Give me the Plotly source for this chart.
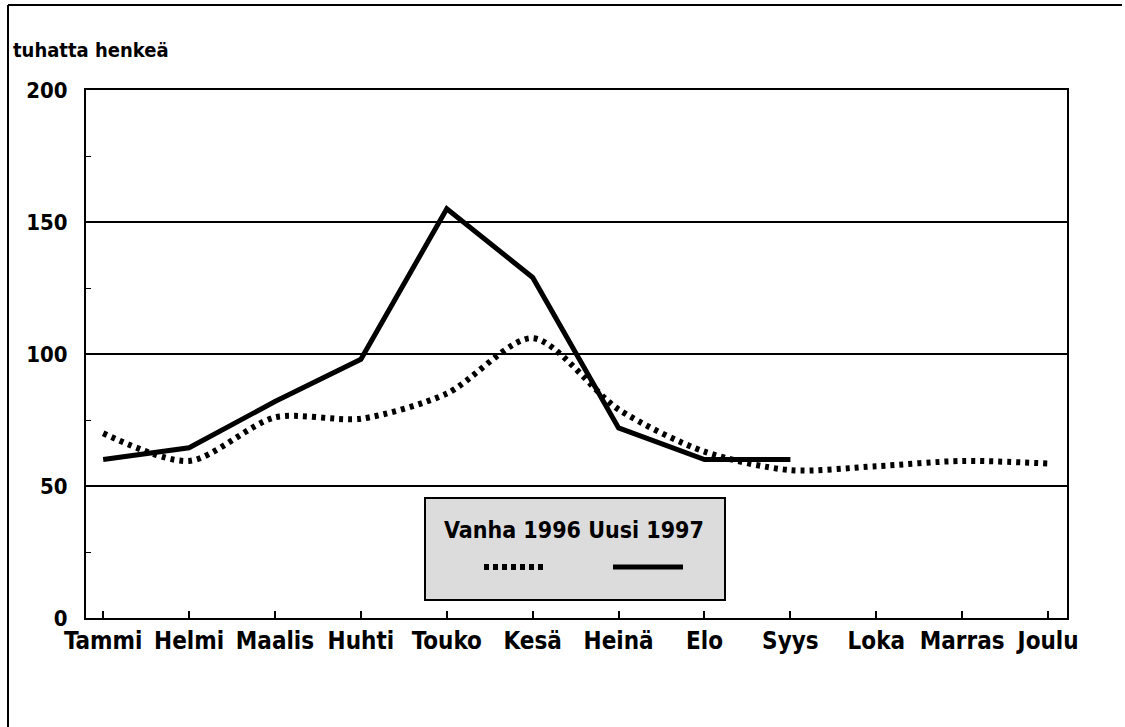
import plotly.graph_objects as go

months = ["Tammi", "Helmi", "Maalis", "Huhti", "Touko", "Kesä", "Heinä",
          "Elo", "Syys", "Loka", "Marras", "Joulu"]
vanha_1996 = [70, 59.5, 76, 75.5, 85, 106, 79, 63, 56, 57.5, 59.5, 58.5]
uusi_1997 = [60, 64.5, 82, 98, 155, 129, 72, 60, 60]
y_ticks = [0, 50, 100, 150, 200]

FONT = "DejaVu Sans Condensed, Liberation Sans Narrow, Arial Narrow, sans-serif"

x_idx = list(range(len(months)))

fig = go.Figure()
fig.add_trace(go.Scatter(
    x=x_idx, y=vanha_1996, mode="lines", name="Vanha 1996",
    line=dict(color="black", width=6, dash="4px,5px", shape="spline", smoothing=0.8),
    showlegend=False))
fig.add_trace(go.Scatter(
    x=x_idx[:len(uusi_1997)], y=uusi_1997, mode="lines", name="Uusi 1997",
    line=dict(color="black", width=5),
    showlegend=False))

fig.update_layout(
    width=1125, height=727,
    margin=dict(l=86, r=58, t=90, b=109),
    paper_bgcolor="white", plot_bgcolor="white",
    font=dict(family=FONT, size=22, color="black", weight="bold"),
    xaxis=dict(
        range=[-0.2, 11.22], tickmode="array", tickvals=x_idx, ticktext=months,
        ticks="inside", ticklen=7, tickwidth=1.5, tickcolor="black",
        showgrid=False, zeroline=False,
        showline=True, linecolor="black", linewidth=2, mirror=True,
        tickfont=dict(family=FONT, size=24, weight="bold"),
    ),
    yaxis=dict(
        range=[0, 200], tickmode="array", tickvals=y_ticks,
        ticks="", showgrid=True, gridcolor="black", gridwidth=1.5,
        zeroline=False, showline=True, linecolor="black", linewidth=2, mirror=True,
        tickfont=dict(family=FONT, size=22, weight="bold"),
        ticklabelstandoff=12,
        minor=dict(tickvals=[25, 75, 125, 175], ticks="inside", ticklen=5,
                   tickwidth=1.2, tickcolor="black", showgrid=False),
    ),
)


def px_x(x):
    return (x - 86) / 981


def px_y(y):
    return (618 - y) / 528


# page frame (left and top edges of the scanned figure box)
fig.add_shape(type="line", xref="paper", yref="paper",
              x0=px_x(8), x1=px_x(8), y0=px_y(730), y1=px_y(5),
              line=dict(color="black", width=2))
fig.add_shape(type="line", xref="paper", yref="paper",
              x0=px_x(8), x1=px_x(1122), y0=px_y(5), y1=px_y(5),
              line=dict(color="black", width=2))

# y-axis title
fig.add_annotation(text="tuhatta henkeä", xref="paper", yref="paper",
                   x=px_x(11), y=px_y(50), xanchor="left", yanchor="middle",
                   showarrow=False, font=dict(family=FONT, size=20, weight="bold"))

# custom legend box
fig.add_shape(type="rect", xref="paper", yref="paper",
              x0=px_x(425), x1=px_x(725), y0=px_y(600), y1=px_y(498),
              fillcolor="#dcdcdc", line=dict(color="black", width=2), layer="above")
fig.add_annotation(text="Vanha 1996 Uusi 1997", xref="paper", yref="paper",
                   x=px_x(574), y=px_y(530), xanchor="center", yanchor="middle",
                   showarrow=False, font=dict(family=FONT, size=23, color="black", weight="bold"))
fig.add_shape(type="line", xref="paper", yref="paper",
              x0=px_x(484), x1=px_x(547), y0=px_y(567), y1=px_y(567),
              line=dict(color="black", width=6, dash="5px,4px"), layer="above")
fig.add_shape(type="line", xref="paper", yref="paper",
              x0=px_x(613), x1=px_x(683), y0=px_y(567), y1=px_y(567),
              line=dict(color="black", width=5), layer="above")

fig.write_html("out.html", config={"displayModeBar": False},
               post_script="document.body.style.margin='0';")
